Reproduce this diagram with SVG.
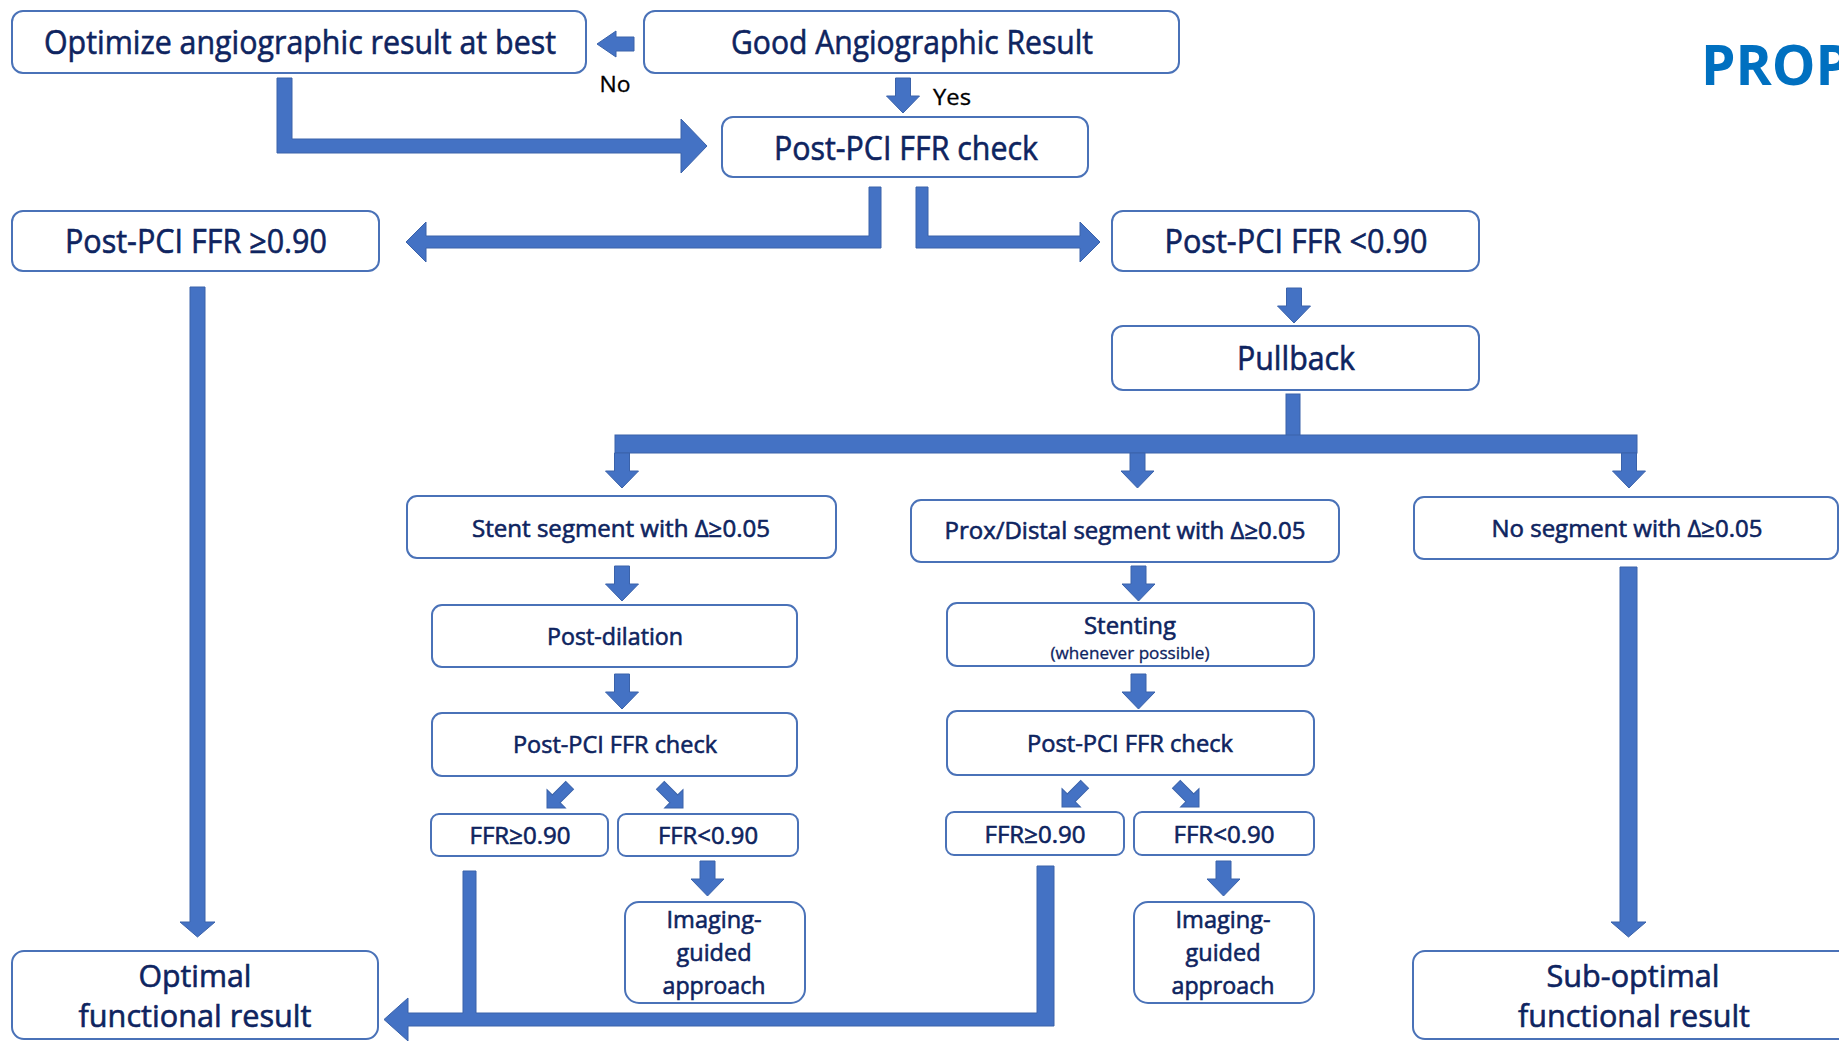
<svg xmlns="http://www.w3.org/2000/svg" xmlns:xlink="http://www.w3.org/1999/xlink" width="1839" height="1041" viewBox="0 0 1839 1041">
<style>
.box{fill:#fff;stroke:#4A72B8;stroke-width:2}
.t{font-family:'Open Sans','Noto Sans','Liberation Sans',sans-serif;fill:#0E2460;stroke:#0E2460;stroke-width:0.6;text-anchor:middle}
.big{font-size:33px}
.mid{font-size:31px}
.med{font-size:24px}
.sm{font-size:16px;stroke-width:0.3}
.lbl{font-family:'Open Sans','Noto Sans','Liberation Sans',sans-serif;font-size:22px;fill:#000;stroke:#000;stroke-width:0.3;text-anchor:middle}
.arr{fill:#4472C4;stroke:#3A62AA;stroke-width:1}
.title{font-family:'Open Sans','Noto Sans','Liberation Sans',sans-serif;font-size:55px;font-weight:bold;fill:#0070C0}
</style>
<defs>
<path id="dn" d="M-7.5,-35 L7.5,-35 L7.5,-17 L16.5,-17 L0,0 L-16.5,-17 L-7.5,-17 Z"/>
<path id="dg" d="M0,0 L-13,-13 L-13,-5.5 L-32,-5.5 L-32,5.5 L-13,5.5 L-13,13 Z"/>
</defs>
<rect width="1839" height="1041" fill="#fff"/>

<text class="title" x="1701" y="85">PROP</text>

<g id="connectors" class="arr">
<path d="M597,44 L616,31 L616,37 L634,37 L634,51 L616,51 L616,57 Z"/>
<use xlink:href="#dn" href="#dn" transform="translate(903,113)"/>
<path d="M277,78 L292,78 L292,139 L681,139 L681,119 L707,146 L681,173 L681,153 L277,153 Z"/>
<path d="M869,187 L881,187 L881,248 L426,248 L426,262 L406,242 L426,222 L426,236 L869,236 Z"/>
<path d="M916,187 L928,187 L928,236 L1080,236 L1080,222 L1100,242 L1080,262 L1080,248 L916,248 Z"/>
<use xlink:href="#dn" href="#dn" transform="translate(1294,323)"/>
<rect x="1286" y="394" width="14" height="42"/>
<rect x="615" y="435" width="1022" height="18"/>
<use xlink:href="#dn" href="#dn" transform="translate(622,488)"/>
<use xlink:href="#dn" href="#dn" transform="translate(1137.5,488)"/>
<use xlink:href="#dn" href="#dn" transform="translate(1629,488)"/>
<use xlink:href="#dn" href="#dn" transform="translate(622,601)"/>
<use xlink:href="#dn" href="#dn" transform="translate(622,709)"/>
<use xlink:href="#dg" href="#dg" transform="translate(547,808) rotate(135)"/>
<use xlink:href="#dg" href="#dg" transform="translate(683,808) rotate(45)"/>
<use xlink:href="#dn" href="#dn" transform="translate(707.5,896)"/>
<use xlink:href="#dn" href="#dn" transform="translate(1138.5,601)"/>
<use xlink:href="#dn" href="#dn" transform="translate(1138.5,709)"/>
<use xlink:href="#dg" href="#dg" transform="translate(1062,807) rotate(135)"/>
<use xlink:href="#dg" href="#dg" transform="translate(1199,807) rotate(45)"/>
<use xlink:href="#dn" href="#dn" transform="translate(1223.5,896)"/>
<path d="M190,287 L205,287 L205,922 L215,922 L197.5,937 L180,922 L190,922 Z"/>
<path d="M1620,567 L1637,567 L1637,922 L1646,922 L1628.5,937 L1611,922 L1620,922 Z"/>
<path d="M463,871 L476,871 L476,1013 L1037,1013 L1037,866 L1054,866 L1054,1026 L408,1026 L408,1041 L384,1019.5 L408,998 L408,1013 L463,1013 Z"/>
</g>

<text class="lbl" x="615" y="92" textLength="31" lengthAdjust="spacingAndGlyphs">No</text>
<text class="lbl" x="952" y="105" textLength="38" lengthAdjust="spacingAndGlyphs">Yes</text>

<g id="n-optimize"><rect class="box" x="12" y="11" width="574" height="62" rx="11"/>
<text class="t big" x="300" y="54" textLength="512" lengthAdjust="spacingAndGlyphs">Optimize angiographic result at best</text></g>
<g id="n-good"><rect class="box" x="644" y="11" width="535" height="62" rx="11"/>
<text class="t big" x="912" y="54" textLength="362" lengthAdjust="spacingAndGlyphs">Good Angiographic Result</text></g>
<g id="n-check1"><rect class="box" x="722" y="117" width="366" height="60" rx="11"/>
<text class="t big" x="906" y="160" textLength="264" lengthAdjust="spacingAndGlyphs">Post-PCI FFR check</text></g>
<g id="n-ge"><rect class="box" x="12" y="211" width="367" height="60" rx="11"/>
<text class="t big" x="196" y="253" textLength="262" lengthAdjust="spacingAndGlyphs">Post-PCI FFR ≥0.90</text></g>
<g id="n-lt"><rect class="box" x="1112" y="211" width="367" height="60" rx="11"/>
<text class="t big" x="1296" y="253" textLength="263" lengthAdjust="spacingAndGlyphs">Post-PCI FFR &lt;0.90</text></g>
<g id="n-pullback"><rect class="box" x="1112" y="326" width="367" height="64" rx="11"/>
<text class="t big" x="1296" y="370" textLength="118" lengthAdjust="spacingAndGlyphs">Pullback</text></g>

<g id="n-stentseg"><rect class="box" x="407" y="496" width="429" height="62" rx="10"/>
<text class="t med" x="621" y="537" textLength="298" lengthAdjust="spacingAndGlyphs">Stent segment with Δ≥0.05</text></g>
<g id="n-proxseg"><rect class="box" x="911" y="500" width="428" height="62" rx="10"/>
<text class="t med" x="1125" y="539" textLength="361" lengthAdjust="spacingAndGlyphs">Prox/Distal segment with Δ≥0.05</text></g>
<g id="n-noseg"><rect class="box" x="1414" y="497" width="424" height="62" rx="10"/>
<text class="t med" x="1627" y="537" textLength="271" lengthAdjust="spacingAndGlyphs">No segment with Δ≥0.05</text></g>

<g id="n-postdil"><rect class="box" x="432" y="605" width="365" height="62" rx="10"/>
<text class="t med" x="615" y="645" textLength="136" lengthAdjust="spacingAndGlyphs">Post-dilation</text></g>
<g id="n-check2"><rect class="box" x="432" y="713" width="365" height="63" rx="10"/>
<text class="t med" x="615" y="753" textLength="204" lengthAdjust="spacingAndGlyphs">Post-PCI FFR check</text></g>
<g id="n-ge2"><rect class="box" x="431" y="814" width="177" height="42" rx="8"/>
<text class="t med" x="520" y="844" textLength="101" lengthAdjust="spacingAndGlyphs">FFR≥0.90</text></g>
<g id="n-lt2"><rect class="box" x="618" y="814" width="180" height="42" rx="8"/>
<text class="t med" x="708" y="844" textLength="100" lengthAdjust="spacingAndGlyphs">FFR&lt;0.90</text></g>
<g id="n-img1"><rect class="box" x="625" y="902" width="180" height="101" rx="14"/>
<text class="t med" x="714" y="928" textLength="95" lengthAdjust="spacingAndGlyphs">Imaging-</text>
<text class="t med" x="714" y="961" textLength="75" lengthAdjust="spacingAndGlyphs">guided</text>
<text class="t med" x="714" y="994" textLength="103" lengthAdjust="spacingAndGlyphs">approach</text></g>

<g id="n-stenting"><rect class="box" x="947" y="603" width="367" height="63" rx="10"/>
<text class="t med" x="1130" y="634" textLength="92" lengthAdjust="spacingAndGlyphs">Stenting</text>
<text class="t sm" x="1130" y="659" textLength="159" lengthAdjust="spacingAndGlyphs">(whenever possible)</text></g>
<g id="n-check3"><rect class="box" x="947" y="711" width="367" height="64" rx="10"/>
<text class="t med" x="1130" y="752" textLength="206" lengthAdjust="spacingAndGlyphs">Post-PCI FFR check</text></g>
<g id="n-ge3"><rect class="box" x="946" y="812" width="178" height="43" rx="8"/>
<text class="t med" x="1035" y="843" textLength="101" lengthAdjust="spacingAndGlyphs">FFR≥0.90</text></g>
<g id="n-lt3"><rect class="box" x="1134" y="812" width="180" height="43" rx="8"/>
<text class="t med" x="1224" y="843" textLength="101" lengthAdjust="spacingAndGlyphs">FFR&lt;0.90</text></g>
<g id="n-img2"><rect class="box" x="1134" y="902" width="180" height="101" rx="14"/>
<text class="t med" x="1223" y="928" textLength="95" lengthAdjust="spacingAndGlyphs">Imaging-</text>
<text class="t med" x="1223" y="961" textLength="75" lengthAdjust="spacingAndGlyphs">guided</text>
<text class="t med" x="1223" y="994" textLength="103" lengthAdjust="spacingAndGlyphs">approach</text></g>

<g id="n-optimal"><rect class="box" x="12" y="951" width="366" height="88" rx="12"/>
<text class="t mid" x="195" y="987" textLength="113" lengthAdjust="spacingAndGlyphs">Optimal</text>
<text class="t mid" x="195" y="1027" textLength="233" lengthAdjust="spacingAndGlyphs">functional result</text></g>
<g id="n-suboptimal"><rect class="box" x="1413" y="951" width="440" height="88" rx="12"/>
<text class="t mid" x="1633" y="987" textLength="173" lengthAdjust="spacingAndGlyphs">Sub-optimal</text>
<text class="t mid" x="1634" y="1027" textLength="232" lengthAdjust="spacingAndGlyphs">functional result</text></g>
</svg>
